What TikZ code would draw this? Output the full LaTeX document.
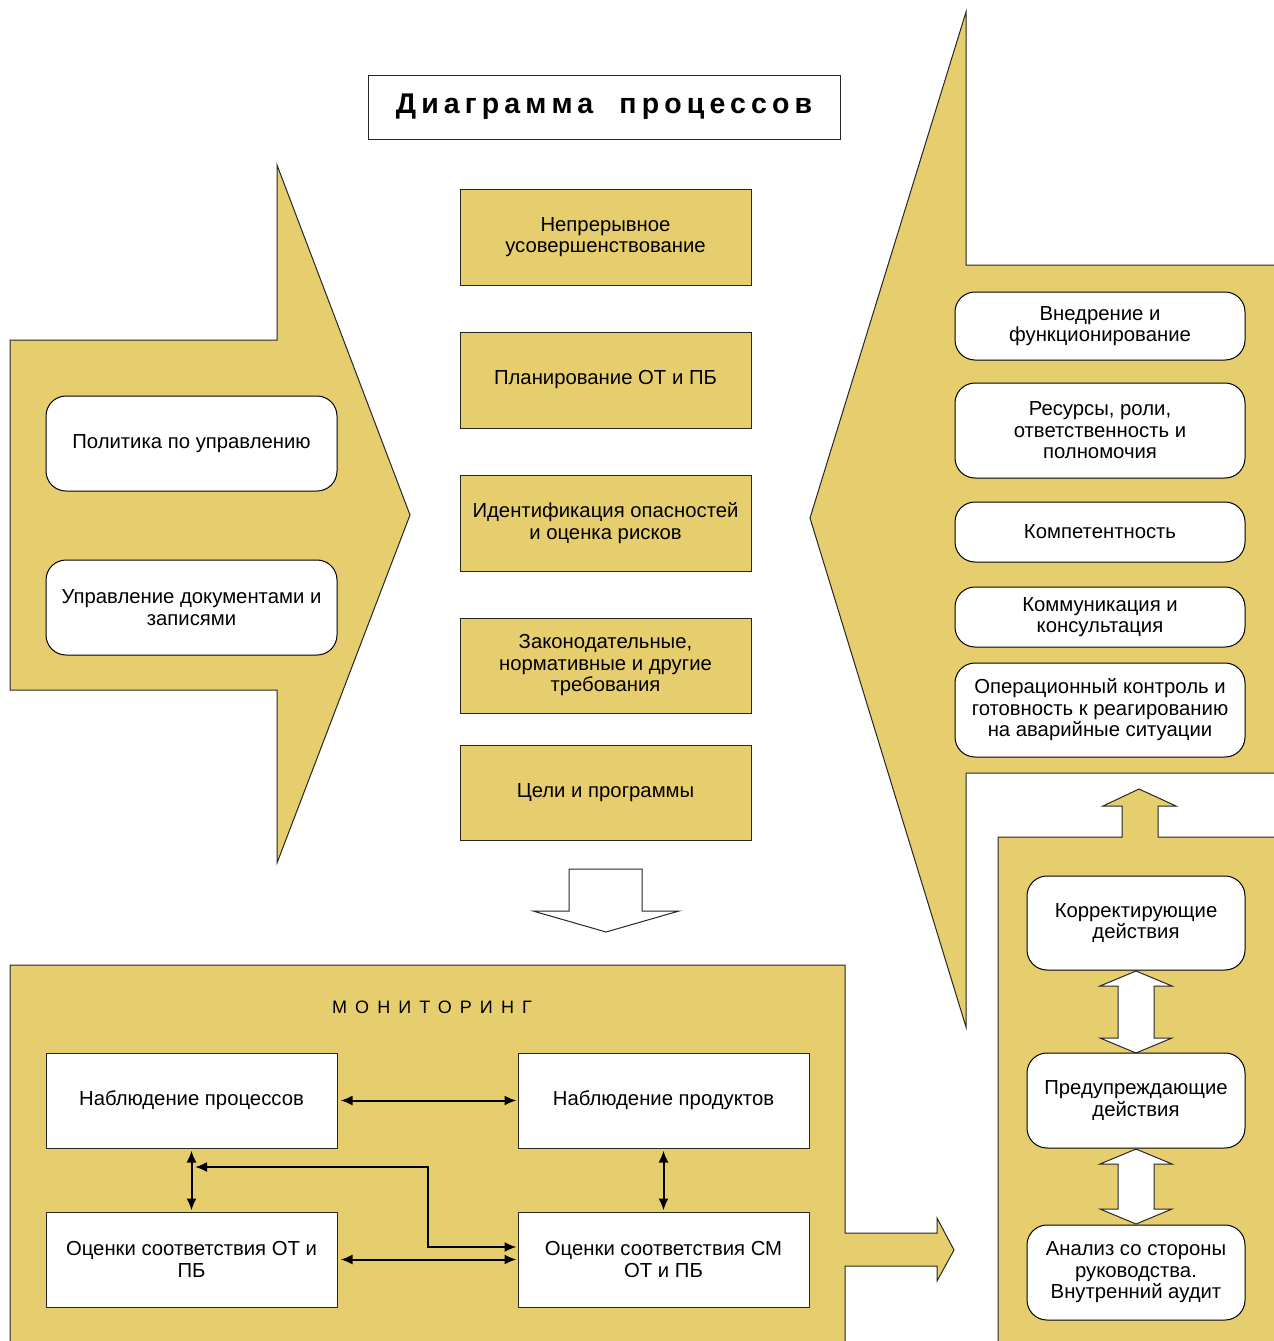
\documentclass[tikz,border=0pt]{standalone}
\usepackage{fontspec}
\setmainfont{Liberation Sans}
\newfontfamily\titlefont[LetterSpace=18]{Liberation Sans}
\newfontfamily\monfont[LetterSpace=45]{Liberation Sans}
\usetikzlibrary{arrows.meta,calc}
\definecolor{ochre}{HTML}{E6CE6E}
\begin{document}
\begin{tikzpicture}[x=1pt,y=-1pt,
  shapefill/.style={fill=ochre, draw=black!85, line width=1pt, line join=miter},
  blockarrow/.style={fill=white, draw=black!85, line width=1pt},
  txt/.style={font=\fontsize{20.3}{21.5}\selectfont, align=center, inner sep=0pt},
  rbox/.style={txt, draw=black, fill=white, line width=1pt, rounded corners=20pt},
  ybox/.style={txt, draw=black!85, fill=ochre, line width=1pt, minimum width=291pt, minimum height=96pt},
  wbox/.style={txt, draw=black!85, fill=white, line width=1pt, minimum width=291pt, minimum height=95pt},
  dbl/.style={{Latex[length=12pt,width=10pt]}-{Latex[length=12pt,width=10pt]}, line width=2pt, black}
]
\useasboundingbox (0,0) rectangle (1274,1341);
% big shapes
\draw[shapefill] (10,340) -- (277,340) -- (277,165) -- (410,515) -- (277,863) -- (277,690) -- (10,690) -- cycle;
\draw[shapefill] (966,12) -- (966,265) -- (1285,265) -- (1285,773) -- (966,773) -- (966,1027) -- (810,518) -- cycle;
\draw[shapefill] (10,965) -- (845,965) -- (845,1233) -- (937,1233) -- (937,1218) -- (954,1250) -- (937,1281) -- (937,1266) -- (845,1266) -- (845,1350) -- (10,1350) -- cycle;
\draw[shapefill] (998,1350) -- (998,837) -- (1122,837) -- (1122,806) -- (1103,806) -- (1139,789) -- (1176,806) -- (1158,806) -- (1158,837) -- (1285,837) -- (1285,1350) -- cycle;
% down arrow
\draw[blockarrow] (569,869) -- (642,869) -- (642,911) -- (679,911) -- (606,932) -- (533,911) -- (569,911) -- cycle;
% double block arrows
\draw[blockarrow] (1136,971) -- (1172,986) -- (1154,986) -- (1154,1038) -- (1172,1038) -- (1136,1053) -- (1100,1038) -- (1118,1038) -- (1118,986) -- (1100,986) -- cycle;
\draw[blockarrow] (1136,1149) -- (1172,1164) -- (1154,1164) -- (1154,1209) -- (1172,1209) -- (1136,1224) -- (1100,1209) -- (1118,1209) -- (1118,1164) -- (1100,1164) -- cycle;

% title
\node[draw=black!85, line width=1pt, fill=white, minimum width=472pt, minimum height=64pt, inner sep=0pt] (title) at (604,107)
  {\raisebox{-3pt}{\titlefont\bfseries\fontsize{28.5}{32}\selectfont Диаграмма\ \ процессов}};

% left boxes
\node[rbox, minimum width=291pt, minimum height=95pt] (pol) at (191.5,443.5) {Политика по управлению};
\node[rbox, minimum width=291pt, minimum height=95pt] (doc) at (191.5,607.5) {Управление документами и\\записями};

% center boxes
\node[ybox] (c1) at (605.5,237) {Непрерывное\\усовершенствование};
\node[ybox] (c2) at (605.5,380) {Планирование ОТ и ПБ};
\node[ybox] (c3) at (605.5,523) {Идентификация опасностей\\и оценка рисков};
\node[ybox, minimum height=95pt] (c4) at (605.5,665.5) {Законодательные,\\нормативные и другие\\требования};
\node[ybox, minimum height=95pt] (c5) at (605.5,792.5) {Цели и программы};

% right boxes
\node[rbox, minimum width=290pt, minimum height=68pt] (r1) at (1100,326) {Внедрение и\\функционирование};
\node[rbox, minimum width=290pt, minimum height=95pt] (r2) at (1100,430.5) {Ресурсы, роли,\\ответственность и\\полномочия};
\node[rbox, minimum width=290pt, minimum height=60pt] (r3) at (1100,532) {Компетентность};
\node[rbox, minimum width=290pt, minimum height=60pt] (r4) at (1100,617) {Коммуникация и\\консультация};
\node[rbox, minimum width=290pt, minimum height=94pt] (r5) at (1100,710) {Операционный контроль и\\готовность к реагированию\\на аварийные ситуации};

% bottom right boxes
\node[rbox, minimum width=218pt, minimum height=94pt] (b1) at (1136,923) {Корректирующие\\действия};
\node[rbox, minimum width=218pt, minimum height=95pt] (b2) at (1136,1100.5) {Предупреждающие\\действия};
\node[rbox, minimum width=218pt, minimum height=95pt] (b3) at (1136,1272.5) {Анализ со стороны\\руководства.\\Внутренний аудит};

% monitoring
\node[inner sep=0pt] (mon) at (432,1007) {\monfont\fontsize{18}{20}\selectfont МОНИТОРИНГ};
\node[wbox] (np) at (191.5,1100.5) {Наблюдение процессов};
\node[wbox] (nprod) at (663.5,1100.5) {Наблюдение продуктов};
\node[wbox] (os) at (191.5,1259.5) {Оценки соответствия ОТ и\\ПБ};
\node[wbox] (osm) at (663.5,1259.5) {Оценки соответствия СМ\\ОТ и ПБ};

\draw[dbl, shorten <=3pt, shorten >=1pt] (np.east) -- (nprod.west);
\draw[dbl, shorten <=3pt, shorten >=1pt] (os.east) -- (osm.west);
\draw[dbl, shorten <=2pt, shorten >=1pt] (np.south) -- (os.north);
\draw[dbl, shorten <=2pt, shorten >=1pt] (nprod.south) -- (osm.north);
\coordinate (elb) at (195,1167);
\coordinate (bend) at (428,1167);
\draw[dbl, shorten >=1pt] (elb) -- (bend) |- ([yshift=12.5pt]osm.west);
\end{tikzpicture}
\end{document}
